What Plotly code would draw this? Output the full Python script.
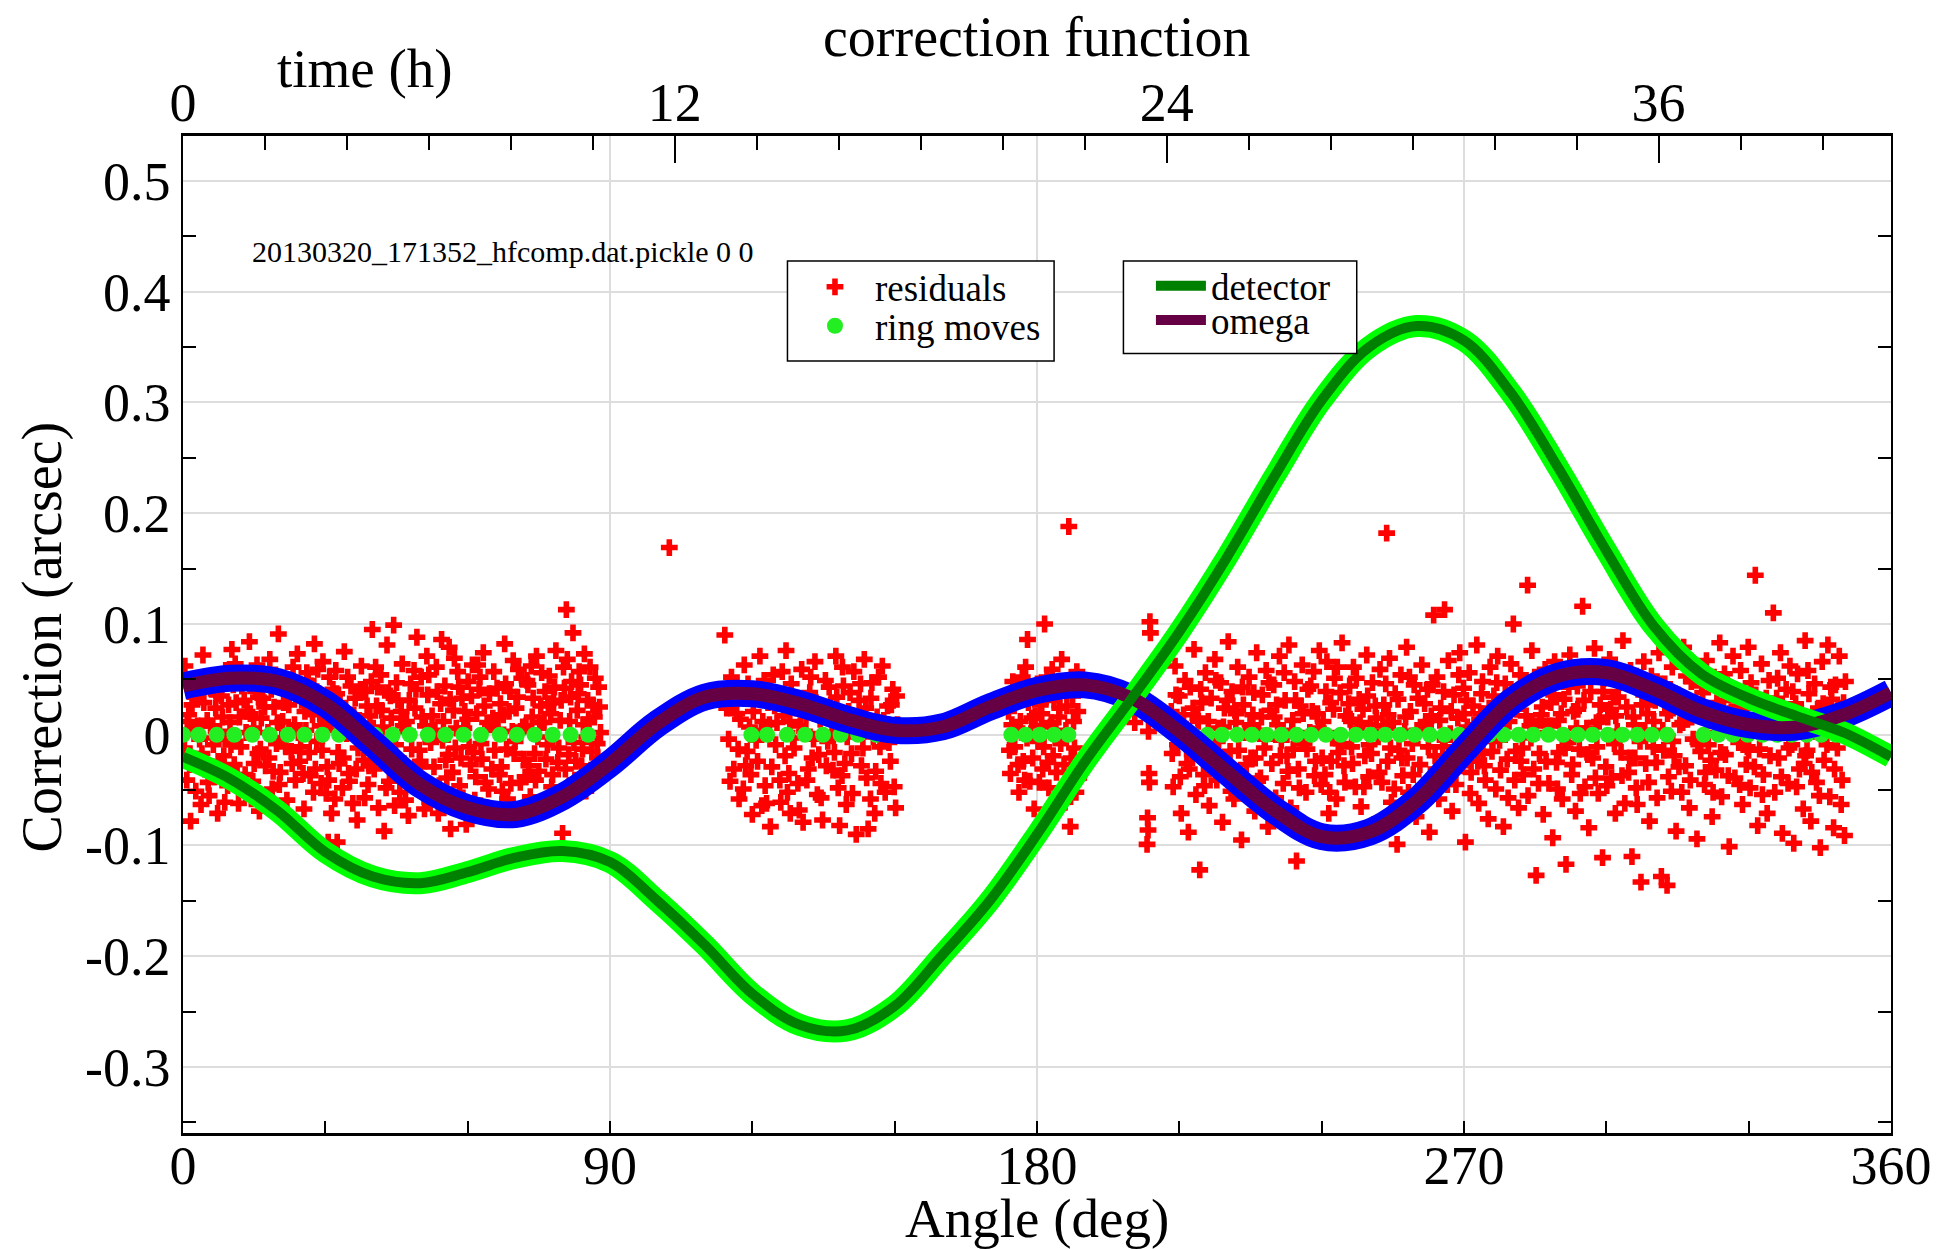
import plotly.graph_objects as go

# angle grid for the fitted correction curves (deg)
angle_grid = [0, 10, 20, 30, 40, 50, 60, 70, 80, 90, 100, 110, 120, 130, 140, 150, 160, 170, 180,
              190, 200, 210, 220, 230, 240, 250, 260, 270, 280, 290, 300, 310, 320, 330, 340, 350, 360]

# omega correction (arcsec)
omega = [0.044, 0.051, 0.048, 0.028, -0.008, -0.045, -0.066, -0.072, -0.056, -0.026, 0.010, 0.034,
         0.037, 0.028, 0.014, 0.004, 0.007, 0.025, 0.040, 0.045, 0.033, 0.003, -0.033, -0.068,
         -0.092, -0.088, -0.060, -0.014, 0.030, 0.053, 0.056, 0.041, 0.021, 0.009, 0.007, 0.018, 0.038]

# detector correction (arcsec)
detector = [-0.020, -0.040, -0.069, -0.106, -0.128, -0.134, -0.124, -0.111, -0.105, -0.115, -0.150,
            -0.190, -0.234, -0.262, -0.267, -0.245, -0.199, -0.150, -0.090, -0.025, 0.033, 0.093,
            0.160, 0.233, 0.302, 0.350, 0.369, 0.356, 0.308, 0.240, 0.166, 0.098, 0.055, 0.033,
            0.017, 0.002, -0.020]

# ring moves (deg), all sitting at zero correction
ring_moves = [0.0, 3.3, 7.1, 10.8, 14.6, 18.3, 22.1, 25.6, 29.4, 32.9, 36.7, 40.5, 44.2, 47.8, 51.6,
              55.3, 59.1, 62.8, 66.8, 70.4, 74.1, 77.9, 81.7, 85.4,
              119.8, 123.1, 127.3, 131.1, 134.9, 138.6, 142.3, 146.1, 149.8,
              174.6, 177.6, 180.6, 183.6, 186.6,
              212.8, 215.9, 219.0, 222.2, 225.3, 228.4, 231.5, 234.7, 237.8, 240.9, 244.0, 247.2,
              250.3, 253.4, 256.5, 259.6, 262.8, 265.9, 269.0, 272.1, 275.3, 278.4, 281.5, 284.6,
              287.8, 290.9, 294.0, 297.1, 300.3, 303.4, 306.5, 309.6, 312.8,
              320.5, 323.6, 326.7, 329.8, 332.9, 336.0, 339.1, 342.2, 345.3, 348.4]

# residuals (angle deg, arcsec) per block of data
resid_block1 = [
    (0.4, 0.062), (0.8, -0.041), (1.2, 0.018), (1.6, -0.078), (2.1, 0.005), (2.5, 0.034), (2.9, -0.022), (3.3, 0.051), (3.8, -0.063), (0.3, -0.012), (1.9, 0.027), (3.5, -0.004),
    (4.2, 0.072), (4.6, -0.031), (5.1, 0.013), (5.5, -0.055), (6.0, 0.041), (6.4, -0.009), (6.9, 0.024), (7.3, -0.071), (7.7, 0.003), (4.9, 0.046), (6.7, -0.038), (5.8, 0.008),
    (8.1, 0.035), (8.6, -0.019), (9.0, 0.058), (9.4, -0.046), (9.9, 0.011), (10.3, 0.077), (10.8, -0.027), (11.2, 0.029), (11.7, -0.062), (8.9, -0.004), (10.6, 0.045), (11.9, 0.016),
    (12.2, -0.011), (12.6, 0.052), (13.1, -0.036), (13.5, 0.021), (14.0, 0.084), (14.4, -0.058), (14.9, 0.006), (15.3, 0.039), (15.8, -0.017), (12.9, 0.031), (14.7, -0.042), (15.6, 0.063),
    (16.1, -0.069), (16.5, 0.015), (17.0, 0.047), (17.4, -0.028), (17.9, 0.002), (18.3, 0.068), (18.8, -0.049), (19.2, 0.025), (19.7, -0.008), (16.8, 0.033), (18.1, -0.021), (19.5, 0.054),
    (20.1, 0.091), (20.5, -0.034), (21.0, 0.012), (21.4, 0.043), (21.9, -0.059), (22.3, 0.027), (22.8, -0.015), (23.2, 0.061), (23.7, -0.041), (20.8, -0.003), (22.1, 0.038), (23.5, 0.009),
    (24.1, 0.073), (24.6, -0.024), (25.0, 0.031), (25.5, -0.067), (25.9, 0.004), (26.4, 0.049), (26.8, -0.037), (27.3, 0.018), (27.7, 0.082), (24.8, -0.011), (26.1, 0.056), (27.5, -0.052),
    (28.2, -0.006), (28.6, 0.037), (29.1, -0.044), (29.5, 0.066), (30.0, 0.014), (30.4, -0.029), (30.9, 0.052), (31.3, -0.071), (31.8, 0.023), (28.9, 0.008), (30.2, -0.053), (31.6, 0.041),
    (32.2, 0.058), (32.7, -0.016), (33.1, 0.029), (33.6, -0.048), (34.0, 0.075), (34.5, 0.001), (34.9, -0.035), (35.4, 0.044), (35.8, -0.062), (32.9, -0.026), (34.3, 0.019), (35.6, 0.011),
    (36.3, 0.033), (36.7, -0.077), (37.2, 0.009), (37.6, 0.062), (38.1, -0.023), (38.5, 0.039), (39.0, -0.045), (39.4, 0.017), (39.9, 0.095), (36.9, -0.012), (38.3, -0.057), (39.7, 0.048),
    (40.3, -0.031), (40.8, 0.026), (41.2, -0.066), (41.7, 0.054), (42.1, 0.007), (42.6, -0.019), (43.0, 0.081), (43.5, -0.042), (43.9, 0.015), (41.0, 0.043), (42.4, -0.087), (43.7, 0.035),
    (44.4, 0.099), (44.8, -0.009), (45.3, 0.031), (45.7, -0.052), (46.2, 0.064), (46.6, -0.026), (47.1, 0.012), (47.5, -0.073), (48.0, 0.046), (44.6, -0.064), (46.0, 0.021), (47.3, 0.003),
    (48.4, -0.038), (48.9, 0.024), (49.3, 0.088), (49.8, -0.014), (50.2, 0.052), (50.7, -0.049), (51.1, 0.008), (51.6, 0.036), (52.0, -0.061), (48.7, 0.058), (50.0, -0.024), (51.4, 0.071),
    (52.5, 0.017), (52.9, -0.029), (53.4, 0.061), (53.8, -0.071), (54.3, 0.028), (54.7, -0.005), (55.2, 0.044), (55.6, -0.039), (56.1, 0.079), (53.1, 0.004), (54.5, 0.086), (55.9, -0.018),
    (56.5, -0.054), (57.0, 0.022), (57.4, -0.012), (57.9, 0.057), (58.3, -0.046), (58.8, 0.033), (59.2, 0.006), (59.7, -0.081), (60.1, 0.048), (57.2, 0.069), (58.6, -0.021), (60.0, 0.014),
    (60.6, -0.027), (61.0, 0.063), (61.5, -0.059), (61.9, 0.019), (62.4, 0.041), (62.8, -0.008), (63.3, 0.074), (63.7, -0.043), (64.2, 0.011), (61.2, -0.016), (62.6, 0.052), (64.0, -0.066),
    (64.6, 0.037), (65.1, -0.031), (65.5, 0.057), (66.0, -0.069), (66.4, 0.005), (66.9, 0.028), (67.3, -0.051), (67.8, 0.082), (68.2, -0.013), (65.3, 0.015), (66.7, -0.036), (68.0, 0.046),
    (68.7, 0.021), (69.1, -0.044), (69.6, 0.067), (70.0, -0.006), (70.5, 0.034), (70.9, -0.072), (71.4, 0.051), (71.8, -0.022), (72.3, 0.008), (69.4, 0.003), (70.7, 0.059), (72.1, -0.038),
    (72.7, 0.045), (73.2, -0.056), (73.6, 0.016), (74.1, -0.017), (74.5, 0.071), (75.0, -0.033), (75.4, 0.026), (75.9, -0.064), (76.3, 0.039), (73.4, 0.062), (74.8, -0.002), (76.1, 0.011),
    (76.8, -0.009), (77.2, 0.053), (77.7, -0.047), (78.1, 0.029), (78.6, 0.076), (79.0, -0.025), (79.5, 0.013), (79.9, -0.053), (80.4, 0.042), (77.5, 0.019), (78.8, -0.062), (80.2, 0.061),
    (80.8, 0.113), (81.3, -0.018), (81.7, 0.034), (82.2, 0.092), (82.6, -0.041), (83.1, 0.022), (83.5, 0.057), (84.0, -0.028), (84.4, 0.009), (81.0, 0.068), (82.4, -0.007), (83.8, 0.045),
    (84.9, -0.051), (85.3, 0.031), (85.8, 0.061), (86.2, -0.015), (86.7, 0.016), (87.1, -0.036), (87.6, 0.043), (88.0, 0.002), (85.1, -0.002), (86.4, 0.027), (87.4, -0.021), (84.6, 0.073),
    (30.6, -0.097), (32.5, -0.097), (80.0, -0.089), (56.4, -0.085), (102.5, 0.169),
    (0.9, 0.012), (1.4, -0.027), (2.3, 0.041), (2.7, -0.051), (3.1, 0.008), (4.0, -0.017), (4.4, 0.029), (5.3, -0.043), (5.6, 0.052), (6.2, -0.003), (7.0, 0.037), (7.5, -0.024),
    (8.3, 0.016), (8.8, -0.061), (9.6, 0.027), (10.1, -0.009), (11.0, 0.064), (11.4, -0.036), (12.4, 0.044), (13.3, 0.002), (13.8, -0.048), (14.2, 0.019), (15.0, -0.026), (15.9, 0.034),
    (16.3, -0.013), (17.2, 0.025), (17.7, -0.057), (18.6, 0.041), (19.0, -0.033), (19.9, 0.011), (20.3, -0.045), (21.2, 0.029), (21.7, -0.011), (22.5, 0.047), (23.0, -0.026), (23.9, 0.036),
    (24.3, 0.002), (25.3, -0.035), (25.7, 0.021), (26.6, -0.016), (27.0, 0.044), (27.9, -0.031), (28.4, 0.059), (29.3, -0.014), (29.8, 0.027), (30.7, -0.041), (31.1, 0.009), (32.0, -0.058),
    (32.4, 0.037), (33.3, 0.004), (33.8, -0.021), (34.7, 0.052), (35.1, -0.042), (36.0, 0.018), (36.5, -0.031), (37.4, 0.041), (37.9, -0.007), (38.8, 0.026), (39.2, -0.028), (40.1, 0.006),
    (40.6, 0.061), (41.5, -0.009), (41.9, 0.022), (42.8, -0.048), (43.3, 0.038), (44.2, -0.021), (45.0, 0.047), (45.5, -0.036), (46.4, 0.008), (46.9, -0.059), (47.7, 0.031), (48.2, -0.013),
    (49.1, 0.041), (49.6, -0.029), (50.4, 0.016), (50.9, -0.067), (51.8, 0.054), (52.2, -0.007), (53.6, 0.039), (54.0, -0.046), (54.9, 0.012), (55.4, -0.023), (56.3, 0.032), (56.8, -0.034),
    (57.6, 0.006), (58.1, 0.043), (59.0, -0.057), (59.4, 0.021), (60.3, -0.011), (60.8, 0.035), (61.7, -0.038), (62.1, 0.063), (63.0, -0.022), (63.5, 0.026), (64.4, -0.049), (64.8, 0.009),
    (65.7, -0.014), (66.2, 0.042), (67.1, -0.029), (67.5, 0.018), (68.4, -0.058), (68.9, 0.039), (69.8, -0.017), (70.2, 0.024), (71.1, -0.043), (71.6, 0.007), (72.5, 0.049), (72.9, -0.028),
    (73.8, 0.033), (74.3, -0.041), (75.2, 0.011), (75.6, 0.056), (76.5, -0.022), (77.0, 0.028), (77.9, -0.036), (78.3, 0.043), (79.2, -0.012), (79.7, 0.031), (80.6, -0.031), (81.5, 0.012),
    (81.9, 0.048), (82.8, -0.024), (83.3, 0.037), (84.2, -0.013), (85.5, 0.014), (86.0, -0.032), (86.9, 0.051), (87.3, -0.008), (87.8, 0.025),
]

resid_block2 = [
    (114.2, 0.090), (115.0, -0.004), (115.6, 0.052), (116.1, -0.031), (116.7, 0.019), (117.2, -0.058), (117.8, 0.036), (118.3, 0.063), (118.9, -0.015), (119.4, 0.007), (120.0, -0.072), (120.5, 0.041),
    (121.1, -0.024), (121.6, 0.071), (122.2, 0.012), (122.7, -0.046), (123.3, 0.029), (123.8, -0.083), (124.4, 0.054), (124.9, -0.009), (125.5, 0.033), (126.0, -0.061), (126.6, 0.017), (127.1, 0.076),
    (127.7, -0.035), (128.2, 0.046), (128.8, -0.012), (129.3, 0.024), (129.9, -0.068), (130.4, 0.059), (131.0, 0.003), (131.5, -0.041), (132.1, 0.038), (132.6, -0.021), (133.2, 0.066), (133.7, -0.054),
    (134.3, 0.014), (134.8, -0.077), (135.4, 0.049), (135.9, -0.006), (136.5, 0.027), (137.0, -0.032), (137.6, 0.071), (138.1, -0.048), (138.7, 0.008), (139.2, 0.044), (139.8, -0.063), (140.3, 0.021),
    (140.9, -0.017), (141.4, 0.057), (141.9, -0.090), (142.5, 0.031), (143.0, -0.028), (143.6, 0.068), (144.1, -0.039), (144.7, 0.005), (145.2, 0.047), (145.8, -0.071), (146.3, 0.016), (146.9, -0.011),
    (147.4, 0.062), (148.0, -0.052), (148.5, 0.026), (149.1, -0.024), (149.6, 0.041), (150.2, -0.066), (150.6, 0.009),
    (118.6, -0.028), (121.9, 0.004), (125.2, 0.011), (128.5, -0.003), (131.3, 0.018), (134.0, -0.018), (136.8, 0.002), (139.5, -0.026), (142.2, 0.014), (145.5, -0.002), (148.3, 0.006),
    (123.0, -0.062), (130.7, -0.079), (138.4, -0.082), (144.4, -0.085), (127.4, -0.052),
    (114.6, 0.024), (115.3, -0.042), (116.4, 0.031), (117.0, -0.013), (117.5, 0.014), (118.1, -0.049), (119.1, 0.046), (119.7, -0.036), (120.2, 0.021), (120.8, -0.005), (121.4, 0.036), (122.0, -0.064),
    (122.5, 0.049), (123.6, 0.009), (124.1, -0.029), (124.7, 0.026), (125.8, -0.041), (126.3, 0.057), (126.9, -0.019), (127.9, 0.012), (128.0, -0.071), (129.0, 0.031), (129.6, -0.044), (130.1, 0.008),
    (131.8, -0.031), (132.3, 0.052), (132.9, -0.004), (133.4, 0.029), (134.5, -0.057), (135.1, 0.021), (135.6, -0.028), (136.2, 0.043), (137.3, -0.016), (137.8, 0.034), (138.9, -0.037), (139.0, 0.061),
    (140.0, -0.002), (140.6, 0.038), (141.1, -0.053), (141.7, 0.011), (142.8, 0.046), (143.3, -0.012), (143.9, 0.024), (144.9, -0.058), (145.0, 0.033), (146.0, -0.033), (146.6, 0.052), (147.1, -0.044),
    (147.7, 0.013), (148.8, -0.007), (149.3, 0.027), (149.9, -0.047), (150.4, 0.035),
]

resid_block3 = [
    (174.0, 0.021), (174.4, -0.035), (174.9, 0.048), (175.3, -0.011), (175.8, 0.006), (176.2, -0.052), (176.7, 0.033), (177.1, -0.024), (177.6, 0.061), (178.0, 0.086),
    (178.5, -0.042), (178.9, 0.015), (179.4, -0.067), (179.8, 0.039), (180.3, -0.006), (180.7, 0.027), (181.2, -0.031), (181.6, 0.100), (182.1, 0.052), (182.5, -0.048),
    (183.0, 0.011), (183.4, -0.019), (183.9, 0.044), (184.3, -0.058), (184.8, 0.024), (185.2, 0.068), (185.7, -0.027), (186.1, 0.004), (186.7, 0.188), (187.0, -0.083),
    (187.5, 0.035), (187.9, -0.012), (188.4, 0.057), (188.8, -0.039), (175.0, 0.027), (177.9, -0.003), (180.9, 0.008), (183.6, 0.031), (186.4, -0.046), (176.5, 0.012),
    (174.2, -0.014), (174.7, 0.009), (175.5, 0.038), (176.0, -0.027), (176.9, 0.052), (177.4, -0.041), (178.2, 0.029), (178.7, 0.001), (179.1, -0.021), (179.6, 0.017),
    (180.1, 0.046), (180.5, -0.043), (181.0, 0.019), (181.4, -0.011), (181.9, 0.034), (182.3, -0.025), (182.8, 0.007), (183.2, 0.059), (184.1, -0.034), (184.6, 0.016),
    (185.0, -0.008), (185.5, 0.041), (185.9, -0.061), (186.3, 0.026), (187.2, -0.021), (187.7, 0.012), (188.2, -0.052), (188.6, 0.021),
    (203.8, 0.102), (203.9, 0.092), (203.5, 0.003), (203.6, -0.035), (203.7, -0.043), (203.3, -0.075), (203.4, -0.086), (203.2, -0.099), (200.6, 0.011),
]

resid_block4 = [
    (208.3, 0.021), (208.7, -0.047), (209.1, 0.062), (209.6, -0.009), (210.0, 0.035), (210.4, -0.071), (210.8, 0.008), (211.2, 0.049), (211.6, -0.026), (211.9, -0.088),
    (212.3, 0.043), (212.7, -0.018), (213.1, 0.077), (213.5, -0.054), (213.9, 0.015), (214.3, -0.122), (214.7, 0.029), (215.1, -0.036), (215.5, 0.056), (215.9, -0.003),
    (216.3, -0.064), (216.7, 0.033), (217.1, -0.011), (217.5, 0.068), (217.9, -0.041), (218.3, 0.006), (218.7, 0.047), (219.1, -0.079), (219.5, 0.024), (219.9, -0.029),
    (220.3, 0.084), (220.7, -0.015), (221.1, 0.039), (221.5, -0.058), (221.9, 0.011), (222.3, 0.061), (222.7, -0.034), (223.1, -0.095), (223.5, 0.027), (223.9, 0.002),
    (224.3, -0.049), (224.7, 0.052), (225.1, -0.021), (225.5, 0.018), (225.9, -0.069), (226.3, 0.074), (226.7, 0.004), (227.1, -0.039), (227.5, 0.036), (227.9, -0.012),
    (228.3, 0.058), (228.7, -0.083), (229.1, 0.022), (229.5, -0.026), (229.9, 0.045), (230.3, -0.057), (230.7, 0.009), (231.1, 0.071), (231.5, -0.005), (231.9, -0.044),
    (232.3, 0.031), (232.7, -0.019), (233.1, 0.081), (233.5, -0.066), (233.9, 0.013), (234.3, 0.048), (234.7, -0.114), (235.1, -0.031), (235.5, 0.026), (235.9, 0.063),
    (236.3, -0.008), (236.7, -0.052), (237.1, 0.041), (237.5, 0.002), (237.9, -0.087), (238.3, 0.057), (238.7, -0.024), (239.1, 0.019), (239.5, 0.076), (239.9, -0.045),
    (240.3, 0.012), (240.7, -0.036), (241.1, 0.066), (241.5, -0.071), (241.9, 0.029), (242.3, -0.003), (242.7, 0.051), (243.1, -0.058), (243.5, -0.016), (243.9, 0.038),
    (244.3, 0.083), (244.7, -0.028), (245.1, 0.017), (245.5, -0.093), (245.9, 0.044), (246.3, -0.011), (246.7, 0.061), (247.1, -0.047), (247.5, 0.006), (247.9, 0.032),
    (248.3, -0.065), (248.7, 0.023), (249.1, -0.019), (249.5, 0.072), (249.9, -0.038), (250.3, 0.009), (250.7, 0.047), (251.1, -0.081), (251.5, 0.015), (251.9, -0.002),
    (252.3, 0.059), (252.7, -0.043), (253.1, 0.027), (253.7, 0.182), (253.9, -0.024), (254.3, 0.069), (254.7, -0.061), (255.1, 0.011), (255.5, 0.037), (255.9, -0.099),
    (256.3, -0.014), (256.7, 0.054), (257.1, -0.037), (257.5, 0.003), (257.9, 0.079), (258.3, -0.052), (258.7, 0.021), (259.1, -0.008), (259.5, 0.045), (259.9, -0.074),
    (260.3, 0.033), (260.7, -0.027), (261.1, 0.063), (261.5, -0.046), (261.9, 0.008), (262.3, 0.041), (262.7, -0.088), (263.1, 0.017), (263.6, 0.108), (263.9, -0.019),
    (264.3, 0.052), (264.7, -0.058), (265.1, 0.024), (265.9, 0.113), (266.3, -0.033), (266.7, 0.067), (267.1, 0.001), (267.5, -0.069), (267.9, 0.036), (265.5, -0.011),
    (268.3, -0.045), (268.7, 0.015), (269.1, 0.074), (269.5, -0.021), (269.9, 0.042), (270.3, -0.097), (270.7, 0.007), (271.1, 0.056), (271.5, -0.034), (271.9, 0.026),
    (272.3, -0.009), (272.7, 0.081), (273.1, -0.062), (273.5, 0.019), (273.9, 0.048), (274.3, -0.028), (274.7, 0.004), (275.1, -0.076), (275.5, 0.061), (275.9, -0.015),
    (276.3, 0.035), (276.7, -0.049), (277.1, 0.071), (277.5, -0.005), (277.9, 0.028), (278.3, -0.083), (278.7, 0.046), (279.1, -0.022), (279.5, 0.012), (279.9, 0.064),
    (280.4, 0.100), (280.7, -0.041), (281.1, 0.023), (281.5, -0.066), (281.9, 0.054), (282.3, -0.012), (282.7, 0.038), (283.4, 0.135), (283.5, -0.055), (283.9, 0.008),
    (284.3, 0.076), (284.7, -0.031), (285.2, -0.127), (285.5, 0.043), (285.9, -0.017), (286.3, 0.018), (286.7, -0.072), (287.1, 0.059), (287.5, 0.002), (287.9, -0.044),
    (288.3, 0.029), (288.7, -0.093), (289.1, 0.066), (289.5, -0.025), (289.9, 0.013), (290.3, 0.049), (290.7, -0.058), (291.1, 0.032), (291.5, -0.117), (291.9, -0.007),
    (292.3, 0.072), (292.7, -0.036), (293.1, 0.021), (293.5, -0.069), (293.9, 0.044), (294.3, -0.013), (294.7, 0.058), (295.0, 0.116), (295.5, -0.047), (295.9, 0.006),
    (296.3, -0.084), (296.7, 0.039), (297.1, -0.021), (297.5, 0.078), (297.9, 0.011), (298.3, -0.053), (298.7, 0.027), (299.2, -0.111), (299.5, 0.051), (299.9, -0.029),
    (300.3, 0.016), (300.7, 0.068), (301.1, -0.039), (301.5, 0.034), (301.9, -0.071), (302.3, 0.003), (302.7, 0.047), (303.1, -0.016), (303.5, 0.085), (303.9, -0.062),
    (304.3, 0.025), (304.7, -0.034), (305.1, 0.058), (305.4, -0.110), (305.9, 0.009), (306.3, -0.048), (306.7, 0.041), (307.1, -0.006), (307.3, -0.133), (307.9, 0.066),
    (308.3, -0.026), (308.7, 0.019), (309.1, -0.078), (309.5, 0.053), (309.9, -0.011), (310.3, 0.031), (310.7, -0.057), (311.1, 0.074), (311.6, -0.128), (311.9, 0.004),
    (312.3, 0.046), (312.8, -0.136), (313.1, -0.038), (313.5, 0.022), (313.9, 0.061), (314.3, -0.019), (314.7, -0.087), (315.1, 0.036), (315.5, 0.009), (315.9, -0.052),
    (316.3, 0.079), (316.7, -0.028), (317.1, 0.014), (317.5, -0.066), (317.9, 0.048), (318.3, -0.004), (318.7, 0.029), (319.1, -0.094), (319.5, 0.057), (319.9, -0.015),
    (320.3, 0.038), (320.7, -0.045), (321.1, 0.067), (321.5, -0.009), (321.9, 0.021), (322.3, -0.074), (322.7, 0.052), (323.1, -0.032), (323.5, 0.002), (323.9, 0.083),
    (324.3, -0.056), (324.7, 0.031), (325.1, -0.018), (325.5, 0.045), (325.9, -0.101), (326.3, 0.012), (326.7, 0.071), (327.1, -0.039), (327.5, 0.026), (327.9, -0.007),
    (328.3, 0.058), (328.7, -0.063), (329.1, 0.017), (329.5, -0.027), (329.9, 0.079), (330.3, -0.048), (330.7, 0.005), (331.4, 0.144), (331.5, 0.036), (331.9, -0.082),
    (332.3, -0.013), (332.7, 0.064), (333.1, -0.036), (333.5, 0.023), (333.9, -0.071), (334.3, 0.049), (334.7, 0.008), (335.2, 0.110), (335.5, -0.052), (335.9, 0.033),
    (336.3, -0.021), (336.7, 0.074), (337.1, -0.089), (337.5, 0.015), (337.9, 0.041), (338.3, -0.044), (338.7, 0.062), (339.1, -0.009), (339.5, -0.098), (339.9, 0.028),
    (340.3, 0.055), (340.7, -0.031), (341.1, 0.019), (341.5, -0.067), (341.9, 0.085), (342.3, -0.014), (342.7, 0.037), (343.1, -0.078), (343.5, 0.003), (343.9, 0.046),
    (344.3, -0.043), (344.7, 0.024), (345.1, -0.102), (345.5, 0.066), (345.9, -0.023), (346.3, 0.011), (346.7, 0.081), (347.1, -0.056), (347.5, 0.032), (347.9, -0.084),
    (348.3, 0.045), (348.7, -0.012), (349.1, 0.071), (349.5, -0.063), (349.9, 0.019), (350.2, -0.091), (350.4, 0.048),
    (209.4, 0.004), (214.0, 0.012), (218.0, -0.006), (222.0, 0.019), (226.0, -0.021), (230.0, 0.016), (234.0, -0.013), (238.0, 0.021), (242.0, -0.024),
    (246.0, 0.014), (250.0, -0.009), (254.0, 0.018), (258.0, -0.021), (262.0, 0.012), (266.0, -0.005), (270.0, 0.019), (274.0, -0.017), (278.0, 0.009),
    (282.0, -0.024), (286.0, 0.013), (290.0, -0.016), (294.0, 0.023), (298.0, -0.011), (302.0, 0.017), (306.0, -0.021), (310.0, 0.012), (314.0, -0.006),
    (318.0, 0.016), (322.0, -0.023), (326.0, 0.019), (330.0, -0.014), (334.0, 0.008), (338.0, 0.018), (342.0, -0.019), (346.0, 0.006),
    (208.5, -0.017), (209.3, 0.036), (210.2, -0.038), (210.9, 0.018), (211.4, 0.005), (212.1, -0.031), (212.9, 0.024), (213.7, -0.008), (214.5, 0.041), (215.3, -0.046),
    (216.1, 0.012), (216.9, -0.022), (217.7, 0.049), (218.5, -0.035), (219.3, 0.007), (220.1, 0.031), (220.9, -0.051), (221.7, 0.022), (222.5, -0.014), (223.3, 0.043),
    (224.1, -0.027), (224.9, 0.009), (225.7, 0.038), (226.5, -0.042), (227.3, 0.016), (228.1, -0.004), (228.9, 0.047), (229.7, -0.061), (230.5, 0.027), (231.3, -0.019),
    (232.1, 0.056), (232.9, -0.033), (233.7, 0.004), (234.5, 0.031), (235.3, -0.048), (236.1, 0.019), (236.9, -0.013), (237.7, 0.044), (238.5, -0.037), (239.3, 0.006),
    (240.1, -0.021), (240.9, 0.039), (241.7, -0.052), (242.5, 0.023), (243.3, 0.061), (244.1, -0.008), (244.9, -0.043), (245.7, 0.028), (246.5, -0.026), (247.3, 0.051),
    (248.1, 0.011), (248.9, -0.047), (249.7, 0.035), (250.5, -0.017), (251.3, 0.026), (252.1, -0.034), (252.9, 0.008), (253.5, 0.046), (254.5, -0.012), (255.3, -0.049),
    (256.1, 0.032), (256.9, -0.021), (257.7, 0.016), (258.5, 0.052), (259.3, -0.036), (260.1, 0.004), (260.9, -0.056), (261.7, 0.028), (262.5, -0.011), (263.3, 0.045),
    (264.1, -0.031), (264.9, 0.013), (265.7, 0.039), (266.5, -0.045), (267.3, 0.021), (268.1, -0.017), (268.9, 0.054), (269.7, -0.028), (270.5, 0.031), (271.3, -0.053),
    (272.1, 0.009), (272.9, -0.024), (273.7, 0.037), (274.5, -0.041), (275.3, 0.024), (276.1, -0.006), (276.9, 0.047), (277.7, -0.032), (278.5, 0.014), (279.3, -0.057),
    (280.1, 0.029), (280.9, -0.015), (281.7, 0.041), (282.5, -0.036), (283.1, 0.017), (284.1, -0.003), (284.9, 0.052), (285.7, -0.044), (286.5, 0.025), (287.3, -0.024),
    (288.1, 0.008), (288.9, 0.036), (289.7, -0.049), (290.5, 0.019), (291.3, -0.012), (292.1, 0.043), (292.9, -0.027), (293.7, 0.006), (294.5, -0.053), (295.3, 0.031),
    (296.1, -0.018), (296.9, 0.057), (297.7, -0.039), (298.5, 0.012), (299.3, 0.039), (300.1, -0.046), (300.9, 0.023), (301.7, -0.008), (302.5, 0.034), (303.3, -0.037),
    (304.1, 0.049), (304.9, -0.021), (305.7, 0.016), (306.5, -0.063), (307.5, 0.027), (308.1, 0.004), (308.9, -0.043), (309.7, 0.032), (310.5, -0.025), (311.3, 0.046),
    (312.1, -0.014), (312.9, 0.019), (313.7, -0.051), (314.5, 0.037), (315.3, -0.029), (316.1, 0.011), (316.9, 0.053), (317.7, -0.041), (318.5, 0.021), (319.3, -0.007),
    (320.1, 0.044), (320.9, -0.034), (321.7, 0.013), (322.5, -0.052), (323.3, 0.029), (324.1, -0.016), (324.9, 0.055), (325.7, -0.037), (326.5, 0.003), (327.3, 0.038),
    (328.1, -0.045), (328.9, 0.024), (329.7, -0.011), (330.5, 0.047), (331.2, -0.029), (332.1, 0.016), (332.9, -0.054), (333.7, 0.033), (334.5, -0.019), (335.3, 0.006),
    (336.1, 0.051), (336.9, -0.038), (337.7, 0.022), (338.5, -0.012), (339.3, 0.039), (340.1, -0.047), (340.9, 0.012), (341.7, -0.026), (342.5, 0.058), (343.3, -0.034),
    (344.1, 0.017), (344.9, -0.055), (345.7, 0.028), (346.5, -0.009), (347.3, 0.043), (348.1, -0.031), (348.9, 0.009), (349.7, -0.041), (350.0, 0.029),
]

y_tick_vals = [-0.3, -0.2, -0.1, 0, 0.1, 0.2, 0.3, 0.4, 0.5]
y_tick_text = ['-0.3', '-0.2', '-0.1', '0', '0.1', '0.2', '0.3', '0.4', '0.5']
hours_at_360 = 41.67
hour_ticks = [0, 12, 24, 36]
hour_minor_ticks = [2, 4, 6, 8, 10, 14, 16, 18, 20, 22, 26, 28, 30, 32, 34, 38, 40]

residuals = resid_block1 + resid_block2 + resid_block3 + resid_block4
resid_x = [p[0] for p in residuals]
resid_y = [p[1] for p in residuals]

FONT = 'Liberation Serif, Times New Roman, serif'

fig = go.Figure()

fig.add_trace(go.Scatter(
    x=resid_x, y=resid_y, mode='markers', name='residuals',
    marker=dict(symbol='cross', size=14, color='#ff0000', line=dict(width=0)),
    legend='legend'
))
fig.add_trace(go.Scatter(
    x=ring_moves, y=[0.0] * len(ring_moves), mode='markers', name='ring moves',
    marker=dict(symbol='circle', size=16, color='#22ee22', line=dict(width=0)),
    legend='legend3'
))
# bootstrap bundles, drawn as wide bands under the mean curves
fig.add_trace(go.Scatter(
    x=angle_grid, y=omega, mode='lines', line=dict(color='#0000ff', width=27, shape='spline'),
    showlegend=False, hoverinfo='skip'
))
fig.add_trace(go.Scatter(
    x=angle_grid, y=detector, mode='lines', line=dict(color='#00ff00', width=22, shape='spline'),
    showlegend=False, hoverinfo='skip'
))
fig.add_trace(go.Scatter(
    x=angle_grid, y=omega, mode='lines', name='omega',
    line=dict(color='#660044', width=13, shape='spline'),
    legend='legend4'
))
fig.add_trace(go.Scatter(
    x=angle_grid, y=detector, mode='lines', name='detector',
    line=dict(color='#008000', width=10, shape='spline'),
    legend='legend2'
))
# invisible trace so the time axis on top gets drawn
fig.add_trace(go.Scatter(
    x=[0, hours_at_360], y=[None, None], xaxis='x2', mode='markers',
    marker=dict(opacity=0), showlegend=False, hoverinfo='skip'
))

axis_font = dict(family=FONT, size=54, color='black')
entry = dict(bgcolor='rgba(0,0,0,0)', borderwidth=0, itemwidth=70,
             font=dict(family=FONT, size=37, color='black'),
             xanchor='left', yanchor='middle')
entry_line = dict(entry, itemwidth=50)

fig.update_layout(
    width=1941, height=1249,
    margin=dict(l=183, r=50, t=136, b=116, autoexpand=False),
    paper_bgcolor='white', plot_bgcolor='white',
    font=dict(family=FONT, color='black'),
    xaxis=dict(
        range=[0, 360], dtick=90, tick0=0, ticks='inside', ticklen=12, tickwidth=1.5, tickcolor='black',
        minor=dict(dtick=30, ticks='inside', ticklen=12, tickwidth=1.5, tickcolor='black', showgrid=False),
        showgrid=True, gridcolor='#dddddd', gridwidth=2, zeroline=False, mirror=False,
        showline=True, linecolor='black', linewidth=2.5, tickfont=axis_font, ticklabelstandoff=-17,
        automargin=False
    ),
    xaxis2=dict(
        range=[0, hours_at_360], overlaying='x', side='top', anchor='y',
        tickvals=hour_ticks, ticks='inside', ticklen=27, tickwidth=1.5, tickcolor='black',
        minor=dict(tickvals=hour_minor_ticks, ticks='inside', ticklen=14, tickwidth=1.5,
                   tickcolor='black', showgrid=False),
        showgrid=False, zeroline=False, showline=True, linecolor='black', linewidth=2.5,
        tickfont=axis_font, ticklabelstandoff=-9, automargin=False
    ),
    yaxis=dict(
        range=[-0.3596, 0.5406], tickvals=y_tick_vals, ticktext=y_tick_text, ticks='',
        minor=dict(tick0=0.05, dtick=0.1, ticks='inside', ticklen=13, tickwidth=1.5,
                   tickcolor='black', showgrid=False),
        showgrid=True, gridcolor='#dddddd', gridwidth=2, zeroline=False,
        showline=True, linecolor='black', linewidth=1.5, mirror='ticks', tickfont=axis_font,
        automargin=False
    ),
    legend=dict(x=0.3583, y=0.8483, **entry),
    legend3=dict(x=0.3583, y=0.8092, **entry),
    legend2=dict(x=0.5667, y=0.8493, **entry_line),
    legend4=dict(x=0.5667, y=0.8150, **entry_line),
    shapes=[
        dict(type='rect', xref='paper', yref='paper', x0=0.3539, x1=0.5100, y0=0.7744, y1=0.8747,
             line=dict(color='black', width=1.5), fillcolor='white', layer='above'),
        dict(type='rect', xref='paper', yref='paper', x0=0.5506, x1=0.6872, y0=0.7818, y1=0.8747,
             line=dict(color='black', width=1.5), fillcolor='white', layer='above'),
    ],
    annotations=[
        dict(text='correction function', xref='paper', yref='paper', x=0.5, y=1.099,
             xanchor='center', yanchor='middle', showarrow=False, font=dict(family=FONT, size=56)),
        dict(text='time (h)', xref='paper', yref='paper', x=0.1066, y=1.068,
             xanchor='center', yanchor='middle', showarrow=False, font=dict(family=FONT, size=55)),
        dict(text='Angle (deg)', xref='paper', yref='paper', x=0.5, y=-0.0862,
             xanchor='center', yanchor='middle', showarrow=False, font=dict(family=FONT, size=55)),
        dict(text='Correction (arcsec)', xref='paper', yref='paper', x=-0.082, y=0.498,
             xanchor='center', yanchor='middle', textangle=-90, showarrow=False,
             font=dict(family=FONT, size=56)),
        dict(text='20130320_171352_hfcomp.dat.pickle 0 0', xref='paper', yref='paper', x=0.039, y=0.884,
             xanchor='left', yanchor='middle', showarrow=False, font=dict(family=FONT, size=30)),
    ],
)

fig.write_html("out.html", config={'displayModeBar': False},
               post_script="document.body.style.margin = '0';")
